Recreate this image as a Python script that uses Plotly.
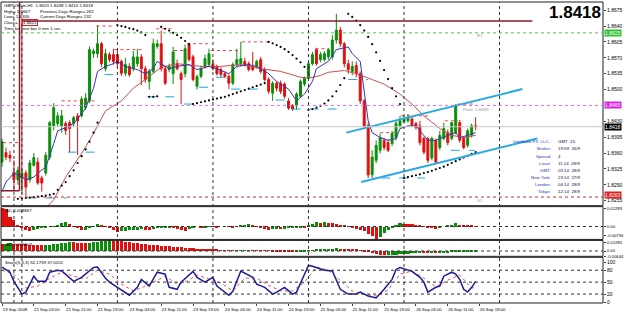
import plotly.graph_objects as go

FONT = "Liberation Sans"

# ---------------- data ----------------
bars = list(range(120))
opens = [1.8340,1.8361,1.8355,1.8318,1.8301,1.8305,1.8316,1.8301,1.8333,1.8340,
         1.8305,1.8316,1.8351,1.8420,1.8425,1.8420,1.8425,1.8427,1.8425,1.8442,
         1.8442,1.8460,1.8475,1.8579,1.8579,1.8601,1.8546,1.8577,1.8577,1.8577,
         1.8562,1.8536,1.8551,1.8546,1.8557,1.8572,1.8546,1.8518,1.8540,1.8595,
         1.8601,1.8546,1.8544,1.8535,1.8557,1.8535,1.8535,1.8599,1.8572,1.8507,
         1.8529,1.8551,1.8555,1.8557,1.8551,1.8544,1.8535,1.8529,1.8514,1.8555,
         1.8557,1.8562,1.8557,1.8551,1.8551,1.8566,1.8544,1.8522,1.8492,1.8514,
         1.8514,1.8512,1.8475,1.8464,1.8464,1.8485,1.8512,1.8525,1.8557,1.8588,
         1.8566,1.8566,1.8572,1.8572,1.8609,1.8631,1.8601,1.8557,1.8540,1.8553,
         1.8535,1.8475,1.8420,1.8312,1.8344,1.8366,1.8388,1.8383,1.8381,1.8394,
         1.8420,1.8429,1.8431,1.8435,1.8425,1.8420,1.8392,1.8392,1.8349,1.8388,
         1.8372,1.8392,1.8405,1.8392,1.8405,1.8427,1.8392,1.8377,1.8399,1.8420]
highs = [1.8392,1.8372,1.8365,1.8344,1.8330,1.8325,1.8322,1.8345,1.8360,1.8350,
         1.8310,1.8362,1.8431,1.8470,1.8450,1.8455,1.8430,1.8432,1.8442,1.8448,
         1.8485,1.8492,1.8595,1.8590,1.8642,1.8605,1.8590,1.8582,1.8590,1.8590,
         1.8566,1.8570,1.8558,1.8585,1.8590,1.8578,1.8552,1.8545,1.8612,1.8610,
         1.8630,1.8550,1.8557,1.8594,1.8566,1.8540,1.8599,1.8603,1.8577,1.8533,
         1.8553,1.8577,1.8590,1.8566,1.8555,1.8549,1.8540,1.8533,1.8560,1.8590,
         1.8605,1.8570,1.8562,1.8583,1.8566,1.8572,1.8549,1.8527,1.8518,1.8518,
         1.8520,1.8516,1.8481,1.8468,1.8494,1.8522,1.8529,1.8562,1.8583,1.8592,
         1.8583,1.8585,1.8592,1.8620,1.8667,1.8638,1.8605,1.8566,1.8562,1.8562,
         1.8540,1.8479,1.8427,1.8366,1.8388,1.8403,1.8394,1.8390,1.8409,1.8431,
         1.8442,1.8442,1.8446,1.8440,1.8429,1.8431,1.8396,1.8396,1.8396,1.8392,
         1.8409,1.8427,1.8412,1.8427,1.8468,1.8433,1.8396,1.8414,1.8425,1.8439]
lows = [1.8330,1.8344,1.8340,1.8275,1.8290,1.8270,1.8265,1.8295,1.8330,1.8290,
        1.8275,1.8310,1.8345,1.8410,1.8418,1.8405,1.8400,1.8362,1.8418,1.8356,
        1.8438,1.8455,1.8470,1.8570,1.8570,1.8550,1.8540,1.8560,1.8555,1.8550,
        1.8530,1.8530,1.8528,1.8540,1.8550,1.8510,1.8515,1.8500,1.8535,1.8590,
        1.8540,1.8510,1.8538,1.8512,1.8542,1.8468,1.8527,1.8562,1.8518,1.8500,
        1.8525,1.8546,1.8551,1.8542,1.8531,1.8527,1.8525,1.8501,1.8510,1.8549,
        1.8551,1.8551,1.8540,1.8540,1.8546,1.8535,1.8518,1.8490,1.8475,1.8496,
        1.8490,1.8480,1.8455,1.8453,1.8455,1.8481,1.8507,1.8520,1.8553,1.8553,
        1.8560,1.8562,1.8566,1.8566,1.8601,1.8594,1.8549,1.8535,1.8531,1.8527,
        1.8468,1.8414,1.8305,1.8305,1.8338,1.8359,1.8366,1.8362,1.8375,1.8388,
        1.8416,1.8425,1.8427,1.8418,1.8412,1.8377,1.8357,1.8338,1.8344,1.8338,
        1.8366,1.8388,1.8377,1.8388,1.8401,1.8383,1.8368,1.8372,1.8394,1.8410]
closes = [1.8385,1.8351,1.8349,1.8301,1.8322,1.8316,1.8285,1.8338,1.8350,1.8294,
          1.8294,1.8355,1.8427,1.8460,1.8442,1.8442,1.8410,1.8414,1.8438,1.8431,
          1.8479,1.8481,1.8588,1.8585,1.8601,1.8557,1.8579,1.8566,1.8562,1.8557,
          1.8536,1.8555,1.8533,1.8572,1.8572,1.8546,1.8522,1.8540,1.8601,1.8601,
          1.8546,1.8514,1.8551,1.8583,1.8546,1.8522,1.8590,1.8566,1.8522,1.8529,
          1.8546,1.8568,1.8579,1.8546,1.8535,1.8533,1.8529,1.8514,1.8555,1.8566,
          1.8568,1.8555,1.8544,1.8544,1.8562,1.8540,1.8522,1.8496,1.8514,1.8503,
          1.8496,1.8485,1.8459,1.8457,1.8490,1.8518,1.8525,1.8557,1.8577,1.8557,
          1.8577,1.8579,1.8588,1.8609,1.8631,1.8601,1.8557,1.8544,1.8551,1.8535,
          1.8475,1.8420,1.8312,1.8351,1.8377,1.8394,1.8372,1.8366,1.8403,1.8425,
          1.8431,1.8435,1.8438,1.8422,1.8416,1.8383,1.8362,1.8344,1.8392,1.8340,
          1.8399,1.8414,1.8383,1.8427,1.8464,1.8388,1.8372,1.8409,1.8420,1.8418]

ma_fast_bar = [0,1,3,4,6,8,9,11,13,14,16,18,19,21,23,24,26,28,29,31,33,34,36,38,39,40,42,44,47,49,52,54,57,59,62,64,67,69,72,74,76,78,79,82,84,87,88,90,91,92,93,95,97,99,100,102,104,105,107,109,110,112,114,115,117,119]
ma_fast = [1.8275,1.8296,1.8316,1.8312,1.8301,1.8307,1.8316,1.8329,1.8381,1.8409,1.8416,1.8425,1.8435,1.8459,1.8503,1.8540,1.8551,1.8557,1.8562,1.8551,1.8546,1.8544,1.8535,1.8546,1.8562,1.8557,1.8546,1.8551,1.8555,1.8544,1.8551,1.8546,1.8535,1.8551,1.8555,1.8551,1.8535,1.8518,1.8501,1.8475,1.8490,1.8518,1.8546,1.8562,1.8588,1.8594,1.8579,1.8562,1.8490,1.8431,1.8405,1.8394,1.8388,1.8392,1.8414,1.8420,1.8420,1.8409,1.8388,1.8388,1.8392,1.8399,1.8405,1.8394,1.8399,1.8405]

ma_slow_bar = [10,13,16,20,23,26,30,33,36,40,44,50,55,60,65,70,75,77,80,82,86,89,93,96,100,103,106,110,113,116,119]
ma_slow = [1.8230,1.8257,1.8307,1.8359,1.8403,1.8453,1.8475,1.8503,1.8522,1.8549,1.8557,1.8551,1.8551,1.8555,1.8546,1.8540,1.8527,1.8525,1.8531,1.8538,1.8542,1.8535,1.8522,1.8512,1.8490,1.8468,1.8442,1.8414,1.8399,1.8394,1.8399]

sar_bar = [4,5,6,7,8,9,10,11,12,13,14,15,16,17,18,19,20,21,22,23,24,
           29,30,31,32,33,34,35,36,37,38,39,40,41,42,43,44,45,46,47,
           48,49,50,51,52,53,54,55,56,57,58,59,60,61,62,63,64,65,66,
           67,68,69,70,71,72,73,74,75,76,77,78,79,80,81,82,83,84,85,86,
           87,88,89,90,91,92,93,94,95,96,97,98,99,100,
           101,102,103,104,105,106,107,108,109,110,111,112,113,114,115,116,117,118,119]
sar = [1.8259,1.8260,1.8261,1.8262,1.8263,1.8264,1.8265,1.8266,1.8268,1.8270,1.8279,1.8288,1.8296,1.8309,1.8322,1.8338,1.8353,1.8368,1.8385,1.8405,1.8427,
       1.8642,1.8640,1.8638,1.8635,1.8633,1.8630,1.8626,1.8620,1.8484,1.8484,1.8485,1.8638,1.8634,1.8630,1.8625,1.8620,1.8614,1.8607,1.8600,
       1.8468,1.8470,1.8472,1.8474,1.8476,1.8478,1.8480,1.8482,1.8484,1.8487,1.8490,1.8493,1.8496,1.8499,1.8502,1.8505,1.8508,1.8511,1.8514,
       1.8605,1.8602,1.8598,1.8594,1.8589,1.8583,1.8576,1.8568,1.8560,1.8550,1.8455,1.8457,1.8460,1.8464,1.8469,1.8476,1.8485,1.8496,1.8510,1.8525,
       1.8667,1.8660,1.8652,1.8642,1.8630,1.8616,1.8600,1.8582,1.8563,1.8543,1.8523,1.8503,1.8485,1.8468,
       1.8305,1.8307,1.8309,1.8311,1.8313,1.8316,1.8318,1.8321,1.8324,1.8327,1.8330,1.8334,1.8338,1.8342,1.8346,1.8350,1.8354,1.8358,1.8362]

# swing-high (red) and swing-low (cyan) marker levels: start bar, end bar, price
high_marks = [(0.25,4.5,1.8383),(15,23.25,1.8475),(23.75,28.25,1.8640),(28.25,35.25,1.8588),
              (38.75,42.75,1.8634),(43.25,46.25,1.8586),(46.5,52,1.8601),(52.5,59.5,1.8586),
              (60.25,67.75,1.8605),(78.75,82,1.8590),(95,98.5,1.8405),(100.25,107,1.8442),
              (111.25,114.5,1.8431),(114.5,118.25,1.8468)]
low_marks = [(6.5,16.25,1.8261),(16.5,25.25,1.8362),(25.75,29,1.8533),(36.5,44.5,1.8484),
             (45.75,50.25,1.8468),(49.5,52.75,1.8505),(53.75,56.25,1.8527),(57.5,66.5,1.8501),
             (68.75,72,1.8477),(72.75,86.5,1.8457),(87,92,1.8522),(95.25,106.25,1.8305),
             (112.75,118.75,1.8366)]

channel_upper_bar = [86.5, 130.75]
channel_upper = [1.8405, 1.8501]
channel_lower_bar = [90.25, 134.5]
channel_lower = [1.8296, 1.8392]

ac = [0.0122,0.0115,0.0065,0.0045,0.0015,-0.0010,-0.0020,-0.0028,-0.0020,-0.0012,
      -0.0008,-0.0004,0.0000,0.0005,0.0015,0.0025,0.0030,0.0020,0.0005,-0.0010,
      -0.0020,-0.0018,-0.0010,0.0005,0.0020,0.0010,0.0002,-0.0008,-0.0020,-0.0035,
      -0.0028,-0.0025,-0.0022,-0.0020,-0.0018,-0.0015,-0.0018,-0.0022,-0.0015,-0.0010,
      -0.0008,-0.0005,-0.0003,-0.0008,-0.0012,-0.0020,-0.0025,-0.0015,-0.0005,0.0000,
      -0.0003,-0.0002,0.0002,0.0001,-0.0002,0.0000,0.0003,0.0002,-0.0001,0.0002,
      0.0008,0.0015,0.0020,0.0012,0.0005,-0.0005,-0.0012,-0.0018,-0.0015,-0.0012,
      -0.0016,-0.0014,-0.0010,-0.0008,-0.0004,-0.0001,-0.0003,0.0008,0.0020,0.0030,
      0.0028,0.0030,0.0026,0.0024,0.0020,0.0015,0.0010,0.0002,-0.0008,-0.0015,
      -0.0022,-0.0030,-0.0045,-0.0060,-0.0080,-0.0065,-0.0040,-0.0020,-0.0005,0.0010,
      0.0022,0.0020,0.0018,0.0016,0.0012,0.0008,0.0003,-0.0003,-0.0008,-0.0012,
      -0.0008,0.0000,0.0008,0.0015,0.0022,0.0012,0.0010,0.0008,0.0006,0.0005]
ao = [0.0080,0.0085,0.0090,0.0085,0.0080,0.0078,0.0075,0.0072,0.0070,0.0068,
      0.0066,0.0068,0.0072,0.0078,0.0085,0.0092,0.0098,0.0104,0.0100,0.0097,
      0.0094,0.0092,0.0095,0.0102,0.0110,0.0118,0.0122,0.0125,0.0122,0.0118,
      0.0112,0.0106,0.0100,0.0094,0.0088,0.0082,0.0076,0.0070,0.0066,0.0062,
      0.0058,0.0054,0.0050,0.0046,0.0042,0.0038,0.0034,0.0030,0.0026,0.0022,
      0.0018,0.0015,0.0012,0.0010,0.0008,0.0006,0.0005,0.0003,0.0002,0.0003,
      0.0005,0.0006,0.0005,0.0003,0.0001,-0.0001,-0.0003,-0.0005,-0.0007,-0.0009,
      -0.0011,-0.0013,-0.0015,-0.0016,-0.0015,-0.0012,-0.0008,-0.0003,0.0002,0.0008,
      0.0013,0.0017,0.0020,0.0023,0.0026,0.0025,0.0023,0.0020,0.0016,0.0010,
      0.0003,-0.0008,-0.0022,-0.0035,-0.0045,-0.0052,-0.0056,-0.0055,-0.0052,-0.0048,
      -0.0044,-0.0040,-0.0036,-0.0033,-0.0031,-0.0030,-0.0031,-0.0032,-0.0031,-0.0032,
      -0.0030,-0.0027,-0.0025,-0.0022,-0.0019,-0.0017,-0.0015,-0.0013,-0.0011,-0.0010]

stoch_k_bar = [0,2,3,5,6,8,9,11,12,14,15,18,20,23,24,26,27,29,32,34,35,37,39,41,42,44,45,48,49,51,53,54,57,58,60,63,64,66,68,69,71,73,74,76,77,78,81,83,84,85,87,89,90,92,94,96,98,99,100,103,105,106,107,109,110,111,113,114,115,116,117,118,119]
stoch_k = [88,75,52,20,25,65,52,52,75,80,78,52,62,87,88,60,50,37,17,37,57,40,75,70,37,32,50,77,62,50,62,40,17,27,78,62,45,37,20,25,37,20,25,70,92,90,80,78,55,32,20,20,25,15,10,32,57,82,87,77,62,50,25,37,40,65,75,70,57,32,25,37,52]
stoch_d_bar = [0,3,6,9,12,15,18,21,24,27,30,33,36,38,41,44,46,49,52,55,58,61,64,67,70,73,76,79,82,85,88,91,94,97,100,103,106,109,112,115,118,119]
stoch_d = [80,70,35,40,60,75,65,58,80,70,45,28,40,50,65,45,50,68,58,48,28,60,60,42,28,28,50,88,80,55,28,20,15,30,70,78,60,38,55,68,35,37]

time_ticks = [0,8,16,24,32,40,48,56,64,72,80,88,96,104,112,120]
time_labels = ["19 Sep 2008","22 Sep 03:00","22 Sep 11:00","22 Sep 19:00","23 Sep 03:00",
               "23 Sep 11:00","23 Sep 19:00","24 Sep 03:00","24 Sep 11:00","24 Sep 19:00",
               "25 Sep 03:00","25 Sep 11:00","25 Sep 19:00","26 Sep 03:00","26 Sep 11:00","26 Sep 19:00"]
day_breaks = [3, 5, 29, 53, 77, 101, 125]
price_ticks = [1.8255,1.8290,1.8325,1.8360,1.8395,1.8430,1.8500,1.8535,1.8570,1.8605,1.8640,1.8675]

last_price = 1.8418
pivot = 1.8465
r1 = 1.8625
s1 = 1.8263
box_top = 1.8651
box_bottom = 1.8277

# ---------------- figure ----------------
GREEN = "#0a8f0a"
RED = "#e01010"
fig = go.Figure()

fig.add_trace(go.Candlestick(x=bars, open=opens, high=highs, low=lows, close=closes,
                             increasing=dict(line=dict(color=GREEN, width=1), fillcolor=GREEN),
                             decreasing=dict(line=dict(color=RED, width=1), fillcolor=RED),
                             whiskerwidth=0, xaxis="x", yaxis="y", showlegend=False))

def seg_trace(marks, color, dash):
    xs, ys = [], []
    for a, b, p in marks:
        xs += [a, b, None]
        ys += [p, p, None]
    return go.Scatter(x=xs, y=ys, mode="lines", line=dict(color=color, width=1, dash=dash),
                      xaxis="x", yaxis="y", showlegend=False, hoverinfo="skip")

fig.add_trace(seg_trace(high_marks, "#f04040", "dot"))
fig.add_trace(seg_trace(low_marks, "#20a8e0", "dash"))

fig.add_trace(go.Scatter(x=ma_slow_bar, y=ma_slow, mode="lines", line=dict(color="#c85050", width=1),
                         xaxis="x", yaxis="y", showlegend=False))
fig.add_trace(go.Scatter(x=ma_fast_bar, y=ma_fast, mode="lines", line=dict(color="#3535b5", width=1),
                         xaxis="x", yaxis="y", showlegend=False))
fig.add_trace(go.Scatter(x=sar_bar, y=sar, mode="markers", marker=dict(color="black", size=2.2),
                         xaxis="x", yaxis="y", showlegend=False))
for bx, by in [(channel_upper_bar, channel_upper), (channel_lower_bar, channel_lower)]:
    fig.add_trace(go.Scatter(x=bx, y=by, mode="lines", line=dict(color="#2aaae2", width=2),
                             xaxis="x", yaxis="y", showlegend=False))

def hist_colors(vals):
    cols = []
    for i, v in enumerate(vals):
        cols.append(GREEN if i > 0 and v > vals[i - 1] else RED)
    return cols

fig.add_trace(go.Bar(x=bars, y=ac, marker=dict(color=hist_colors(ac), line=dict(width=0)), width=0.78,
                     xaxis="x", yaxis="y2", showlegend=False))
fig.add_trace(go.Bar(x=bars, y=ao, marker=dict(color=hist_colors(ao), line=dict(width=0)), width=0.78,
                     xaxis="x", yaxis="y3", showlegend=False))
fig.add_trace(go.Scatter(x=stoch_d_bar, y=stoch_d, mode="lines", line=dict(color="#e05050", width=1, dash="dot"),
                         xaxis="x", yaxis="y4", showlegend=False))
fig.add_trace(go.Scatter(x=stoch_k_bar, y=stoch_k, mode="lines", line=dict(color="#1c1c9c", width=1.5),
                         xaxis="x", yaxis="y4", showlegend=False))

shapes = []
for yr in ["y", "y2", "y3", "y4"]:
    shapes.append(dict(type="rect", xref="paper", yref=yr + " domain", x0=0, x1=1, y0=0, y1=1,
                       line=dict(color="#202020", width=1)))
for d in day_breaks:
    shapes.append(dict(type="line", xref="x", yref="paper", x0=d, x1=d, y0=0, y1=1,
                       line=dict(color="#303030", width=1, dash="dot")))
shapes.append(dict(type="line", xref="paper", yref="y", x0=0, x1=1, y0=last_price, y1=last_price,
                   line=dict(color="#c8c8c8", width=1)))
shapes.append(dict(type="line", xref="paper", yref="y", x0=0, x1=1, y0=r1, y1=r1,
                   line=dict(color="#50c850", width=1, dash="dot")))
shapes.append(dict(type="line", xref="paper", yref="y", x0=0, x1=1, y0=pivot, y1=pivot,
                   line=dict(color="#e070e0", width=1, dash="dot")))
shapes.append(dict(type="line", xref="paper", yref="y", x0=0, x1=1, y0=s1, y1=s1,
                   line=dict(color="#c83030", width=1, dash="dot")))
MAROON = "#8c1c2c"
shapes.append(dict(type="line", xref="x", yref="y", x0=5.0, x1=133.25, y0=box_top, y1=box_top,
                   line=dict(color=MAROON, width=1.5)))
shapes.append(dict(type="line", xref="x", yref="y", x0=4.4, x1=4.4, y0=1.8693, y1=box_bottom,
                   line=dict(color=MAROON, width=1.5)))
shapes.append(dict(type="line", xref="x", yref="y", x0=5.0, x1=5.0, y0=box_top, y1=box_bottom,
                   line=dict(color=MAROON, width=1)))
shapes.append(dict(type="line", xref="x", yref="y", x0=-0.25, x1=4.4, y0=box_bottom, y1=box_bottom,
                   line=dict(color=MAROON, width=1.5)))
shapes.append(dict(type="line", xref="paper", yref="y2", x0=0, x1=1, y0=0, y1=0,
                   line=dict(color="#303030", width=1, dash="dot")))
shapes.append(dict(type="line", xref="paper", yref="y3", x0=0, x1=1, y0=0, y1=0,
                   line=dict(color="#303030", width=1, dash="dot")))
for lv in [20, 50, 80]:
    shapes.append(dict(type="line", xref="paper", yref="y4", x0=0, x1=1, y0=lv, y1=lv,
                       line=dict(color="#303030", width=1, dash="dot")))

def px(x):
    return (x - 1) / 605.0

def py(y):
    return (304 - y) / 303.0

def txt(text, x, y, size=4.4, color="black", xanchor="left"):
    return dict(xref="paper", yref="paper", x=px(x), y=py(y), text=text, showarrow=False,
                xanchor=xanchor, yanchor="middle", font=dict(size=size, color=color, family=FONT))

anns = []
anns.append(txt("GBPUSDm,H1  1.8420 1.8439 1.8410 1.8418", 2, 4.5))
anns.append(txt("High= 1.8667", 2, 10.5))
anns.append(txt("Previous Days Range= 262", 38, 10.5))
anns.append(txt("Low= 1.8305", 2, 16))
anns.append(txt("Current Days Range= 132", 38, 16))
anns.append(txt("Close=", 2, 22))
a = txt("1.8421", 22, 22)
a.update(bordercolor="#e02020", borderwidth=1, borderpad=0)
anns.append(a)
anns.append(txt("Time for next bar 0 min 1 sec", 2, 28))
anns.append(dict(xref="paper", yref="paper", x=px(606), y=py(12), text="<b>1.8418</b>", showarrow=False,
                 xanchor="right", yanchor="middle", font=dict(size=17, color="black", family=FONT)))

info_labels = ["Interbank FX, LLC.:", "Broker:", "Spread:", "Local:", "GMT:", "New York:", "London:", "Tokyo:"]
info_values = ["GMT -15", "19:59  26/9", "4", "11:14  28/9", "03:14  28/9", "23:14  27/9", "04:14  28/9", "12:14  28/9"]
for k, (lab, val) in enumerate(zip(info_labels, info_values)):
    yy = 141.7 + 7.2 * k
    anns.append(txt(lab, 556, yy, color="#2838c8", xanchor="right"))
    anns.append(txt(val, 559, yy, color="#101040"))

anns.append(txt("Pivot  1.8465", 463, 109, color="#909090"))
anns.append(txt("R1", 477, 35, color="#a0a0a0"))
anns.append(txt("S1", 477, 201, color="#a0a0a0"))
anns.append(txt("AC 0.009867", 4, 211))
anns.append(txt("AO 0.003603", 4, 245))
anns.append(txt("Stoch(5,3,3) 52.1739 37.0201", 3, 263))

for val, bg, fg, ys in [(r1, "#30c030", "white", 0), (pivot, "#e020e0", "white", 0),
                        (last_price, "black", "white", 0), (s1, "#e02020", "white", 2)]:
    anns.append(dict(xref="paper", yref="y", x=1.0, y=val, text=f"{val:.4f}", showarrow=False,
                     xanchor="left", yanchor="middle", xshift=1, yshift=ys, bgcolor=bg, borderpad=0,
                     font=dict(size=5, color=fg, family=FONT)))

axis_common = dict(showgrid=False, zeroline=False, showline=False, ticks="outside", ticklen=2,
                   tickcolor="#404040", tickfont=dict(size=5, family=FONT, color="black"), side="right")
small_axis = dict(axis_common)
small_axis["tickfont"] = dict(size=4.2, family=FONT, color="black")

fig.update_layout(
    width=625, height=313, margin=dict(l=1, r=19, t=1, b=9),
    paper_bgcolor="white", plot_bgcolor="white", showlegend=False, bargap=0,
    xaxis=dict(range=[-0.25, 151.0], anchor="y4", showgrid=False, zeroline=False,
               tickvals=time_ticks, ticktext=time_labels, ticks="outside", ticklen=2,
               tickcolor="#404040", tickfont=dict(size=4.3, family=FONT, color="black"),
               ticklabelshift=13, ticklabelstandoff=0, ticklabeloverflow="allow",
               rangeslider=dict(visible=False), showline=False),
    yaxis=dict(domain=[0.3234, 1.0], range=[1.8244, 1.8693], tickvals=price_ticks,
               ticktext=[f"{p:.4f}" for p in price_ticks], anchor="x", **axis_common),
    yaxis2=dict(domain=[0.2112, 0.3201], range=[-0.00838, 0.01289], tickvals=[-0.0060, 0, 0.0119],
                ticktext=["-0.00756", "0.00", "0.01289"], anchor="x", **small_axis),
    yaxis3=dict(domain=[0.1551, 0.2079], range=[-0.00644, 0.01285], tickvals=[-0.0064, 0, 0.0104],
                ticktext=["-0.00644", "0.00", "0.01285"], anchor="x", **small_axis),
    yaxis4=dict(domain=[0.0, 0.1518], range=[-2.5, 112.5], tickvals=[0, 20, 50, 80, 100],
                ticktext=["0", "20", "50", "80", "100"], anchor="x", **axis_common),
    shapes=shapes, annotations=anns,
)

fig.write_html("out.html")
